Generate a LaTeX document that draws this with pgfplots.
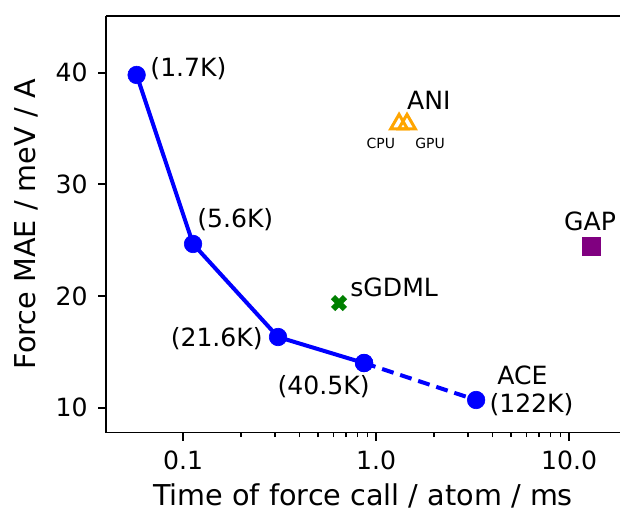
\documentclass[border=0pt]{standalone}
\usepackage{pgfplots}
\pgfplotsset{compat=1.18}
\usepackage{fontspec}
\setmainfont{DejaVu Sans}
\definecolor{mplgreen}{HTML}{008000}
\definecolor{mplorange}{HTML}{FFA500}
\definecolor{mplpurple}{HTML}{800080}

\begin{document}
\fontsize{12.6}{15}\selectfont
\begin{tikzpicture}
\begin{axis}[
  scale only axis, width=257bp, height=208.25bp,
  xmode=log, xmin=0.0399, xmax=18.37, ymin=7.78, ymax=45.07,
  axis x line=box, axis y line=left,
  axis line style={-, line width=0.9bp},
  xtick pos=left, ytick pos=left,
  tick align=outside, major tick length=4bp, minor tick length=2.3bp,
  every tick/.style={black, line width=0.9bp},
  minor tick style={line width=0.7bp},
  xtick={0.1,1,10}, xticklabels={0.1,1.0,10.0},
  ytick={10,20,30,40},
  /pgf/number format/assume math mode=true,
  xticklabel style={inner sep=0pt, anchor=north, yshift=-4.75bp},
  yticklabel style={inner sep=0pt, anchor=east, xshift=-5bp},
  xlabel={Time of force call / atom / ms},
  ylabel={Force MAE / meV / A},
  label style={font=\fontsize{14.4}{17}\selectfont},
  xlabel style={at={(axis description cs:0.5,-0.1525)}, anchor=center, inner sep=0pt},
  ylabel style={at={(axis description cs:-0.1543,0.5)}, anchor=center, inner sep=0pt},
]
\coordinate (bl) at (rel axis cs:0,0);
\addplot[blue, line width=2bp, mark=*, mark size=4.4bp, mark options={line width=0.3bp}] coordinates {
  (0.0575,39.79) (0.1127,24.66) (0.3106,16.33) (0.867,14.0)};
\addplot[blue, line width=2bp, dash pattern=on 6bp off 3.5bp, mark=*, mark size=4.4bp, mark options={solid, line width=0.3bp}] coordinates {
  (0.867,14.0) (3.30,10.69)};
\addplot[only marks, mplorange, mark=triangle, mark size=4.8bp, line width=1.5bp] coordinates {
  (1.316,35.4) (1.447,35.4)};
\addplot[only marks, mplgreen, mark=x, mark size=4.2bp, line width=3bp] coordinates {(0.643,19.37)};
\addplot[only marks, mplpurple, mark=square*, mark size=4.5bp] coordinates {(13.11,24.48)};

\node[anchor=west, inner sep=0pt] at (axis cs:0.0675,40.32) {(1.7K)};
\node[anchor=west, inner sep=0pt] at (axis cs:0.118,26.8) {(5.6K)};
\node[anchor=east, inner sep=0pt] at (axis cs:0.260,16.15) {(21.6K)};
\node[anchor=center, inner sep=0pt] at (axis cs:0.535,11.85) {(40.5K)};
\node[anchor=center, inner sep=0pt] at (axis cs:5.74,12.93) {ACE};
\node[anchor=center, inner sep=0pt] at (axis cs:6.39,10.24) {(122K)};
\node[anchor=center, inner sep=0pt] at (axis cs:12.85,26.71) {GAP};
\node[anchor=west, inner sep=0pt] at (axis cs:0.733,20.76) {sGDML};
\node[anchor=west, inner sep=0pt] at (axis cs:1.443,37.5) {ANI};
\node[anchor=center, inner sep=0pt, font=\fontsize{7}{8}\selectfont] at (axis cs:1.06,33.7) {CPU};
\node[anchor=center, inner sep=0pt, font=\fontsize{7}{8}\selectfont] at (axis cs:1.906,33.7) {GPU};
\end{axis}
\pgfresetboundingbox
\path[use as bounding box] (bl) ++(-53bp,-38.75bp) rectangle ++(310bp,255bp);
\end{tikzpicture}
\end{document}
